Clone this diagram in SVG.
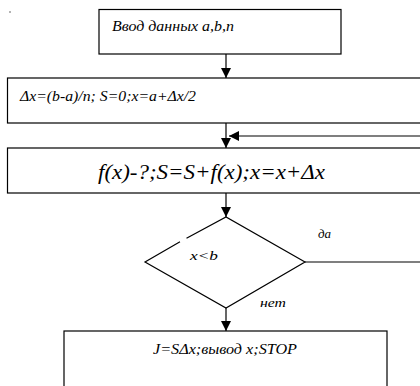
<svg xmlns="http://www.w3.org/2000/svg" width="420" height="386" viewBox="0 0 420 386">
<style>
.box{fill:#fff;stroke:#000;stroke-width:1.2}
.ln{fill:none;stroke:#000;stroke-width:1.2}
.t{font-family:"Liberation Serif","Times New Roman",serif;font-style:italic;fill:#000}
</style>
<defs>
<marker id="ah" viewBox="0 0 10 10" refX="10" refY="5" markerWidth="10" markerHeight="10" markerUnits="userSpaceOnUse" orient="auto">
<path d="M0,0 L10,5 L0,10 Z" fill="#000"/>
</marker>
</defs>
<rect x="0" y="0" width="420" height="386" fill="#fff"/>
<circle cx="10" cy="12" r="0.8" fill="#555"/>
<g id="connectors">
<line class="ln" x1="226" y1="54" x2="226" y2="78" marker-end="url(#ah)"/>
<line class="ln" x1="226" y1="123" x2="226" y2="148" marker-end="url(#ah)"/>
<line class="ln" x1="421" y1="136" x2="229" y2="136" marker-end="url(#ah)"/>
<line class="ln" x1="226" y1="193" x2="226" y2="217" marker-end="url(#ah)"/>
<line class="ln" x1="305" y1="262" x2="421" y2="262"/>
<line class="ln" x1="226" y1="308" x2="226" y2="331" marker-end="url(#ah)"/>
<text class="t" x="318" y="238" font-size="13">да</text>
<text class="t" x="260" y="307" font-size="13" textLength="26" lengthAdjust="spacingAndGlyphs">нет</text>
</g>
<g id="n1">
<rect class="box" x="99" y="9.5" width="242" height="44.5"/>
<text class="t" x="112" y="31" font-size="14" textLength="122" lengthAdjust="spacingAndGlyphs">Ввод данных a,b,n</text>
</g>
<g id="n2">
<rect class="box" x="7.5" y="78" width="420" height="45"/>
<text class="t" x="20" y="101" font-size="14" textLength="176" lengthAdjust="spacingAndGlyphs">Δx=(b-a)/n; S=0;x=a+Δx/2</text>
</g>
<g id="n3">
<rect class="box" x="7.5" y="148" width="420" height="45"/>
<text class="t" x="98" y="179" font-size="20" textLength="227" lengthAdjust="spacingAndGlyphs">f(x)-?;S=S+f(x);x=x+Δx</text>
</g>
<g id="n4">
<path class="ln" d="M186.5,238.3 L226,217 L305,262 L226,308 L145,262 L180,241.7"/>
<text class="t" x="190" y="260" font-size="13" textLength="28" lengthAdjust="spacingAndGlyphs">x&lt;b</text>
</g>
<g id="n5">
<rect class="box" x="64" y="331" width="323" height="70"/>
<text class="t" x="153" y="354" font-size="14" textLength="144" lengthAdjust="spacingAndGlyphs">J=SΔx;вывод x;STOP</text>
</g>
</svg>
